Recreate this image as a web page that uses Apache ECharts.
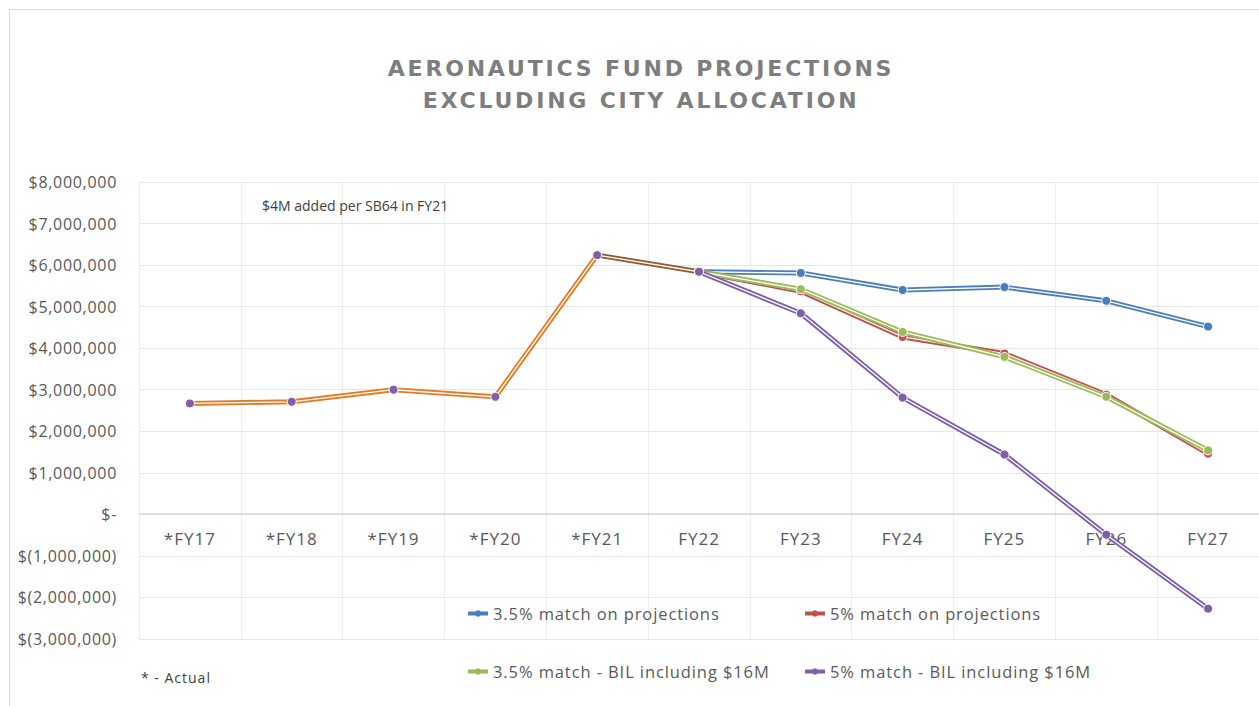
<!DOCTYPE html>
<html>
<head>
<meta charset="utf-8">
<script src="https://cdn.jsdelivr.net/npm/echarts@6/dist/echarts.min.js"></script>
<style>
  * { margin: 0; padding: 0; }
  body { background: #fff; }
  #chart { width: 1259px; height: 706px; }
  /* spacing tweaks for the svg text (picked by fill colour) */
  #chart svg text[fill="#7e7e7e"] { letter-spacing: 2.8px; }
  #chart svg text[fill="#595959"] { letter-spacing: 0.7px; }
  #chart svg text[fill="#585858"] { letter-spacing: 1px; }
  #chart svg text[fill="#5a5a5a"] { letter-spacing: 0.9px; }
  #chart svg text[fill="#414141"] { letter-spacing: 1px; }
</style>
</head>
<body>
<div id="chart"></div>
<script>
// categories (fiscal years, * = actual)
var years = ['*FY17', '*FY18', '*FY19', '*FY20', '*FY21', 'FY22', 'FY23', 'FY24', 'FY25', 'FY26', 'FY27']

// values in dollars
var actualVals = [2670000, 2710000, 3000000, 2830000, 6240000, 5840000, null, null, null, null, null]
var match35Proj = [null, null, null, null, null, 5840000, 5810000, 5400000, 5470000, 5140000, 4520000]
var match5Proj = [null, null, null, null, null, 5840000, 5370000, 4270000, 3870000, 2880000, 1460000]
var match35Bil = [null, null, null, null, null, 5840000, 5420000, 4390000, 3790000, 2830000, 1540000]
var match5Bil = [null, null, null, null, null, 5840000, 4840000, 2810000, 1440000, -490000, -2270000]

var seriesNames = [
  '3.5% match on projections',
  '5% match on projections',
  '3.5% match - BIL including $16M',
  '5% match - BIL including $16M'
]
var seriesColors = ['#4a7ebb', '#c0504d', '#9bbb59', '#7f5fa8']
var seriesData = [match35Proj, match5Proj, match35Bil, match5Bil]

var chart = echarts.init(document.getElementById('chart'), null, { renderer: 'svg' })

function moneyLabel (v) {
  if (v === 0) return '$-'
  if (v < 0) return '$(' + Math.abs(v).toLocaleString('en-US') + ')'
  return '$' + v.toLocaleString('en-US')
}

// double line look: thick coloured stroke + thin white stroke on top
function doubleLine (name, data, color, markerColor, lineColor) {
  return [
    {
      name: name,
      type: 'line',
      data: data,
      symbol: 'circle',
      showSymbol: false,
      itemStyle: { color: color },
      lineStyle: { color: lineColor || color, width: 5 },
      animation: false,
      silent: true
    },
    {
      name: name + ' core',
      type: 'line',
      data: data,
      symbol: 'circle',
      symbolSize: 9,
      itemStyle: { color: markerColor, borderColor: '#fff', borderWidth: 1 },
      lineStyle: { color: '#fff', width: 1.3 },
      animation: false,
      silent: true
    }
  ]
}

var series = []
var actualLine = new echarts.graphic.LinearGradient(0, 0, 1, 0, [
  { offset: 0, color: '#e67a22' },
  { offset: 0.8, color: '#e67a22' },
  { offset: 0.8, color: '#93572a' },
  { offset: 1, color: '#93572a' }
])
series = series.concat(doubleLine('Actual', actualVals, '#e67a22', '#7f5fa8', actualLine))
for (var i = 0; i < seriesNames.length; i++) {
  series = series.concat(doubleLine(seriesNames[i], seriesData[i], seriesColors[i], seriesColors[i]))
}

var legendBase = {
  orient: 'horizontal',
  padding: 0,
  itemWidth: 20,
  itemHeight: 8,
  itemGap: 4,
  textStyle: { fontFamily: 'Open Sans', fontSize: 16.5, color: '#5a5a5a' },
  lineStyle: { width: 4 }
}
var legendPos = [[466, 605], [803, 605], [466, 663], [803, 663]]
var legends = seriesNames.map(function (n, i) {
  return Object.assign({}, legendBase, { data: [n], left: legendPos[i][0], top: legendPos[i][1] })
})

var option = {
  backgroundColor: '#fff',
  title: {
    text: 'AERONAUTICS FUND PROJECTIONS\nEXCLUDING CITY ALLOCATION',
    left: 636,
    textAlign: 'center',
    top: 47,
    textStyle: {
      fontFamily: 'DejaVu Sans',
      fontWeight: 'bold',
      fontSize: 22,
      color: '#7e7e7e',
      lineHeight: 32
    }
  },
  legend: legends,
  grid: { left: 139, right: -2, top: 182, bottom: 67, containLabel: false },
  xAxis: {
    type: 'category',
    data: years,
    boundaryGap: true,
    offset: -125,
    axisLine: { onZero: false, lineStyle: { color: '#d9d9d9', width: 1.5 } },
    axisTick: { show: false },
    axisLabel: { fontFamily: 'Open Sans', fontSize: 17, color: '#585858', margin: 16 },
    splitLine: { show: true, lineStyle: { color: '#ececec' } }
  },
  yAxis: {
    type: 'value',
    min: -3000000,
    max: 8000000,
    interval: 1000000,
    axisLine: { show: false },
    axisTick: { show: false },
    axisLabel: { fontFamily: 'Open Sans', fontSize: 16, color: '#595959', margin: 22, formatter: moneyLabel },
    splitLine: { lineStyle: { color: '#e6e6e6' } }
  },
  graphic: [
    {
      type: 'rect',
      shape: { x: 9.5, y: 9.5, width: 1270, height: 720 },
      style: { fill: null, stroke: '#d9d9d9', lineWidth: 1 },
      silent: true
    },
    {
      type: 'text',
      left: 262,
      top: 198,
      z: 100,
      style: { text: '$4M added per SB64 in FY21', fontFamily: 'Open Sans', fontSize: 14, fill: '#404040' }
    },
    {
      type: 'text',
      left: 141,
      top: 670,
      z: 100,
      style: { text: '* - Actual', fontFamily: 'Open Sans', fontSize: 14, fill: '#414141' }
    }
  ],
  series: series
}

chart.setOption(option)
</script>
</body>
</html>
